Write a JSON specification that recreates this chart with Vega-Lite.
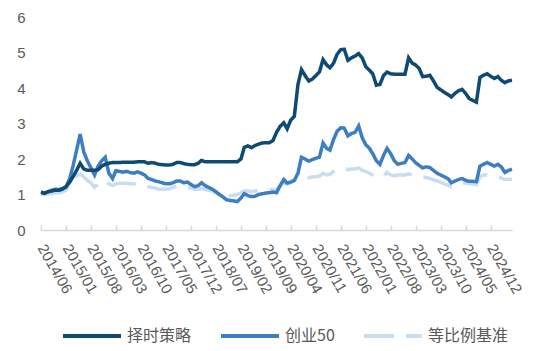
{
"$schema":"https://vega.github.io/schema/vega-lite/v6.json",
"autosize":{"type":"none"},
"padding":{"left":41,"top":17,"right":22,"bottom":121},
"width":471,"height":213,
"config":{"view":{"stroke":null},"font":"Liberation Sans","axis":{"labelColor":"#595959","labelFontSize":15,"grid":false,"title":null,"labelFont":"Liberation Sans"}},
"data":{"values":[
{"d":"2014/06/01","择时策略":1.05,"创业50":1.08,"等比例基准":1.02},
{"d":"2014/07/01","择时策略":1.04,"创业50":1.03,"等比例基准":1.00},
{"d":"2014/08/01","择时策略":1.08,"创业50":1.08,"等比例基准":1.02},
{"d":"2014/09/01","择时策略":1.10,"创业50":1.12,"等比例基准":1.03},
{"d":"2014/10/01","择时策略":1.12,"创业50":1.15,"等比例基准":1.05},
{"d":"2014/11/01","择时策略":1.12,"创业50":1.14,"等比例基准":1.05},
{"d":"2014/12/01","择时策略":1.15,"创业50":1.17,"等比例基准":1.07},
{"d":"2015/01/01","择时策略":1.22,"创业50":1.22,"等比例基准":1.12},
{"d":"2015/02/01","择时策略":1.35,"创业50":1.45,"等比例基准":1.30},
{"d":"2015/03/01","择时策略":1.50,"创业50":1.80,"等比例基准":1.45},
{"d":"2015/04/01","择时策略":1.68,"创业50":2.25,"等比例基准":1.52},
{"d":"2015/05/01","择时策略":1.88,"创业50":2.70,"等比例基准":1.58},
{"d":"2015/06/01","择时策略":1.72,"创业50":2.20,"等比例基准":1.50},
{"d":"2015/07/01","择时策略":1.68,"创业50":1.95,"等比例基准":1.40},
{"d":"2015/08/01","择时策略":1.68,"创业50":1.75,"等比例基准":1.33},
{"d":"2015/09/01","择时策略":1.68,"创业50":1.55,"等比例基准":1.20},
{"d":"2015/10/01","择时策略":1.70,"创业50":1.80,"等比例基准":1.30},
{"d":"2015/11/01","择时策略":1.80,"创业50":1.95,"等比例基准":1.38},
{"d":"2015/12/01","择时策略":1.85,"创业50":2.05,"等比例基准":1.40},
{"d":"2016/01/01","择时策略":1.88,"创业50":1.60,"等比例基准":1.30},
{"d":"2016/02/01","择时策略":1.90,"创业50":1.45,"等比例基准":1.25},
{"d":"2016/03/01","择时策略":1.90,"创业50":1.67,"等比例基准":1.30},
{"d":"2016/04/01","择时策略":1.90,"创业50":1.65,"等比例基准":1.32},
{"d":"2016/05/01","择时策略":1.91,"创业50":1.63,"等比例基准":1.32},
{"d":"2016/06/01","择时策略":1.91,"创业50":1.65,"等比例基准":1.32},
{"d":"2016/07/01","择时策略":1.91,"创业50":1.62,"等比例基准":1.30},
{"d":"2016/08/01","择时策略":1.91,"创业50":1.60,"等比例基准":1.30},
{"d":"2016/09/01","择时策略":1.92,"创业50":1.64,"等比例基准":1.32},
{"d":"2016/10/01","择时策略":1.92,"创业50":1.60,"等比例基准":1.30},
{"d":"2016/11/01","择时策略":1.92,"创业50":1.55,"等比例基准":1.27},
{"d":"2016/12/01","择时策略":1.88,"创业50":1.45,"等比例基准":1.22},
{"d":"2017/01/01","择时策略":1.90,"创业50":1.42,"等比例基准":1.20},
{"d":"2017/02/01","择时策略":1.88,"创业50":1.38,"等比例基准":1.18},
{"d":"2017/03/01","择时策略":1.85,"创业50":1.36,"等比例基准":1.15},
{"d":"2017/04/01","择时策略":1.84,"创业50":1.33,"等比例基准":1.15},
{"d":"2017/05/01","择时策略":1.83,"创业50":1.30,"等比例基准":1.15},
{"d":"2017/06/01","择时策略":1.83,"创业50":1.30,"等比例基准":1.16},
{"d":"2017/07/01","择时策略":1.85,"创业50":1.33,"等比例基准":1.20},
{"d":"2017/08/01","择时策略":1.90,"创业50":1.38,"等比例基准":1.24},
{"d":"2017/09/01","择时策略":1.90,"创业50":1.38,"等比例基准":1.22},
{"d":"2017/10/01","择时策略":1.87,"创业50":1.33,"等比例基准":1.20},
{"d":"2017/11/01","择时策略":1.85,"创业50":1.35,"等比例基准":1.20},
{"d":"2017/12/01","择时策略":1.84,"创业50":1.28,"等比例基准":1.18},
{"d":"2018/01/01","择时策略":1.84,"创业50":1.22,"等比例基准":1.15},
{"d":"2018/02/01","择时策略":1.88,"创业50":1.25,"等比例基准":1.15},
{"d":"2018/03/01","择时策略":1.96,"创业50":1.33,"等比例基准":1.17},
{"d":"2018/04/01","择时策略":1.92,"创业50":1.25,"等比例基准":1.14},
{"d":"2018/05/01","择时策略":1.92,"创业50":1.20,"等比例基准":1.12},
{"d":"2018/06/01","择时策略":1.92,"创业50":1.15,"等比例基准":1.10},
{"d":"2018/07/01","择时策略":1.92,"创业50":1.08,"等比例基准":1.05},
{"d":"2018/08/01","择时策略":1.92,"创业50":1.00,"等比例基准":1.03},
{"d":"2018/09/01","择时策略":1.92,"创业50":0.93,"等比例基准":1.00},
{"d":"2018/10/01","择时策略":1.92,"创业50":0.85,"等比例基准":0.98},
{"d":"2018/11/01","择时策略":1.92,"创业50":0.83,"等比例基准":0.97},
{"d":"2018/12/01","择时策略":1.92,"创业50":0.82,"等比例基准":0.98},
{"d":"2019/01/01","择时策略":1.92,"创业50":0.80,"等比例基准":1.00},
{"d":"2019/02/01","择时策略":2.00,"创业50":0.90,"等比例基准":1.05},
{"d":"2019/03/01","择时策略":2.33,"创业50":1.02,"等比例基准":1.10},
{"d":"2019/04/01","择时策略":2.37,"创业50":0.97,"等比例基准":1.10},
{"d":"2019/05/01","择时策略":2.32,"创业50":0.94,"等比例基准":1.08},
{"d":"2019/06/01","择时策略":2.38,"创业50":0.95,"等比例基准":1.10},
{"d":"2019/07/01","择时策略":2.42,"创业50":1.00,"等比例基准":1.12},
{"d":"2019/08/01","择时策略":2.45,"创业50":1.02,"等比例基准":1.12},
{"d":"2019/09/01","择时策略":2.46,"创业50":1.04,"等比例基准":1.13},
{"d":"2019/10/01","择时策略":2.46,"创业50":1.05,"等比例基准":1.14},
{"d":"2019/11/01","择时策略":2.52,"创业50":1.07,"等比例基准":1.14},
{"d":"2019/12/01","择时策略":2.75,"创业50":1.05,"等比例基准":1.15},
{"d":"2020/01/01","择时策略":2.92,"创业50":1.25,"等比例基准":1.25},
{"d":"2020/02/01","择时策略":3.02,"创业50":1.42,"等比例基准":1.32},
{"d":"2020/03/01","择时策略":2.85,"创业50":1.32,"等比例基准":1.30},
{"d":"2020/04/01","择时策略":3.10,"创业50":1.35,"等比例基准":1.35},
{"d":"2020/05/01","择时策略":3.20,"创业50":1.40,"等比例基准":1.38},
{"d":"2020/06/01","择时策略":4.10,"创业50":1.60,"等比例基准":1.45},
{"d":"2020/07/01","择时策略":4.52,"创业50":2.05,"等比例基准":1.50},
{"d":"2020/08/01","择时策略":4.35,"创业50":2.00,"等比例基准":1.48},
{"d":"2020/09/01","择时策略":4.20,"创业50":1.94,"等比例基准":1.47},
{"d":"2020/10/01","择时策略":4.25,"创业50":1.98,"等比例基准":1.50},
{"d":"2020/11/01","择时策略":4.35,"创业50":2.02,"等比例基准":1.50},
{"d":"2020/12/01","择时策略":4.45,"创业50":2.05,"等比例基准":1.52},
{"d":"2021/01/01","择时策略":4.80,"创业50":2.45,"等比例基准":1.60},
{"d":"2021/02/01","择时策略":4.65,"创业50":2.30,"等比例基准":1.55},
{"d":"2021/03/01","择时策略":4.57,"创业50":2.25,"等比例基准":1.57},
{"d":"2021/04/01","择时策略":4.70,"创业50":2.55,"等比例基准":1.65},
{"d":"2021/05/01","择时策略":4.95,"创业50":2.78,"等比例基准":1.72},
{"d":"2021/06/01","择时策略":5.08,"创业50":2.88,"等比例基准":1.75},
{"d":"2021/07/01","择时策略":5.09,"创业50":2.87,"等比例基准":1.74},
{"d":"2021/08/01","择时策略":4.78,"创业50":2.65,"等比例基准":1.70},
{"d":"2021/09/01","择时策略":4.85,"创业50":2.72,"等比例基准":1.72},
{"d":"2021/10/01","择时策略":4.90,"创业50":2.75,"等比例基准":1.72},
{"d":"2021/11/01","择时策略":4.97,"创业50":2.93,"等比例基准":1.75},
{"d":"2021/12/01","择时策略":4.85,"创业50":2.60,"等比例基准":1.68},
{"d":"2022/01/01","择时策略":4.60,"创业50":2.40,"等比例基准":1.65},
{"d":"2022/02/01","择时策略":4.50,"创业50":2.30,"等比例基准":1.60},
{"d":"2022/03/01","择时策略":4.40,"创业50":2.15,"等比例基准":1.55},
{"d":"2022/04/01","择时策略":4.08,"创业50":1.95,"等比例基准":1.50},
{"d":"2022/05/01","择时策略":4.10,"创业50":1.85,"等比例基准":1.47},
{"d":"2022/06/01","择时策略":4.35,"创业50":2.10,"等比例基准":1.52},
{"d":"2022/07/01","择时策略":4.45,"创业50":2.30,"等比例基准":1.62},
{"d":"2022/08/01","择时策略":4.40,"创业50":2.15,"等比例基准":1.55},
{"d":"2022/09/01","择时策略":4.39,"创业50":1.95,"等比例基准":1.52},
{"d":"2022/10/01","择时策略":4.39,"创业50":1.85,"等比例基准":1.55},
{"d":"2022/11/01","择时策略":4.39,"创业50":1.88,"等比例基准":1.55},
{"d":"2022/12/01","择时策略":4.39,"创业50":1.90,"等比例基准":1.55},
{"d":"2023/01/01","择时策略":4.85,"创业50":2.10,"等比例基准":1.58},
{"d":"2023/02/01","择时策略":4.70,"创业50":2.00,"等比例基准":1.55},
{"d":"2023/03/01","择时策略":4.65,"创业50":1.90,"等比例基准":1.52},
{"d":"2023/04/01","择时策略":4.55,"创业50":1.82,"等比例基准":1.50},
{"d":"2023/05/01","择时策略":4.32,"创业50":1.75,"等比例基准":1.50},
{"d":"2023/06/01","择时策略":4.33,"创业50":1.78,"等比例基准":1.48},
{"d":"2023/07/01","择时策略":4.36,"创业50":1.76,"等比例基准":1.45},
{"d":"2023/08/01","择时策略":4.20,"创业50":1.68,"等比例基准":1.42},
{"d":"2023/09/01","择时策略":4.02,"创业50":1.60,"等比例基准":1.38},
{"d":"2023/10/01","择时策略":3.95,"创业50":1.55,"等比例基准":1.35},
{"d":"2023/11/01","择时策略":3.88,"创业50":1.50,"等比例基准":1.30},
{"d":"2023/12/01","择时策略":3.82,"创业50":1.45,"等比例基准":1.27},
{"d":"2024/01/01","择时策略":3.75,"创业50":1.33,"等比例基准":1.22},
{"d":"2024/02/01","择时策略":3.85,"创业50":1.38,"等比例基准":1.28},
{"d":"2024/03/01","择时策略":3.92,"创业50":1.42,"等比例基准":1.30},
{"d":"2024/04/01","择时策略":3.96,"创业50":1.45,"等比例基准":1.33},
{"d":"2024/05/01","择时策略":3.85,"创业50":1.40,"等比例基准":1.32},
{"d":"2024/06/01","择时策略":3.70,"创业50":1.37,"等比例基准":1.30},
{"d":"2024/07/01","择时策略":3.65,"创业50":1.37,"等比例基准":1.30},
{"d":"2024/08/01","择时策略":3.60,"创业50":1.36,"等比例基准":1.28},
{"d":"2024/09/01","择时策略":4.30,"创业50":1.80,"等比例基准":1.50},
{"d":"2024/10/01","择时策略":4.36,"创业50":1.85,"等比例基准":1.55},
{"d":"2024/11/01","择时策略":4.40,"创业50":1.90,"等比例基准":1.55},
{"d":"2024/12/01","择时策略":4.33,"创业50":1.85,"等比例基准":1.52},
{"d":"2025/01/01","择时策略":4.27,"创业50":1.80,"等比例基准":1.50},
{"d":"2025/02/01","择时策略":4.32,"创业50":1.85,"等比例基准":1.50},
{"d":"2025/03/01","择时策略":4.22,"创业50":1.78,"等比例基准":1.47},
{"d":"2025/04/01","择时策略":4.15,"创业50":1.62,"等比例基准":1.42},
{"d":"2025/05/01","择时策略":4.20,"创业50":1.68,"等比例基准":1.42},
{"d":"2025/06/01","择时策略":4.22,"创业50":1.71,"等比例基准":1.43}
]},
"transform":[{"fold":["择时策略","创业50","等比例基准"],"as":["series","value"]}],
"encoding":{
"x":{"field":"d","type":"temporal",
 "scale":{"domain":[{"year":2014,"month":6,"date":1},{"year":2025,"month":6,"date":1}],"nice":false},
 "axis":{"values":[
  {"year":2014,"month":6,"date":1},{"year":2015,"month":1,"date":1},{"year":2015,"month":8,"date":1},
  {"year":2016,"month":3,"date":1},{"year":2016,"month":10,"date":1},{"year":2017,"month":5,"date":1},
  {"year":2017,"month":12,"date":1},{"year":2018,"month":7,"date":1},{"year":2019,"month":2,"date":1},
  {"year":2019,"month":9,"date":1},{"year":2020,"month":4,"date":1},{"year":2020,"month":11,"date":1},
  {"year":2021,"month":6,"date":1},{"year":2022,"month":1,"date":1},{"year":2022,"month":8,"date":1},
  {"year":2023,"month":3,"date":1},{"year":2023,"month":10,"date":1},{"year":2024,"month":5,"date":1},
  {"year":2024,"month":12,"date":1}],
  "format":"%Y/%m","labelAngle":60,"labelAlign":"left","labelBaseline":"middle",
  "domainColor":"#d9d9d9","domainWidth":1.5,"tickColor":"#d9d9d9","tickWidth":1.5,"tickSize":-5,
  "labelPadding":20,"labelFlush":false,"labelOverlap":false,"labelBound":false}},
"y":{"field":"value","type":"quantitative","scale":{"domain":[0,6],"nice":false},
 "axis":{"values":[0,1,2,3,4,5,6],"domain":false,"ticks":false,"labelPadding":16,"format":"d"}},
"color":{"field":"series","type":"nominal","title":null,
 "scale":{"domain":["择时策略","创业50","等比例基准"],"range":["#0e4a72","#3d7ec3","#c9ddf1"]},
 "legend":{"orient":"none","legendX":20,"legendY":288,"direction":"horizontal","symbolType":"stroke","symbolSize":3364,"symbolStrokeWidth":4,"labelFontSize":16,"labelFont":"Noto Sans CJK SC","labelColor":"#595959","columnPadding":21,"labelOffset":4}},
"strokeDash":{"field":"series","type":"nominal","title":null,
 "scale":{"domain":["择时策略","创业50","等比例基准"],"range":[[1,0],[1,0],[30,12]]},
 "legend":{"orient":"none","legendX":20,"legendY":288,"direction":"horizontal","symbolType":"stroke","symbolSize":3364,"symbolStrokeWidth":4,"labelFontSize":16,"labelFont":"Noto Sans CJK SC","labelColor":"#595959","columnPadding":21,"labelOffset":4}}
},
"layer":[
 {"transform":[{"filter":"datum.series === '等比例基准'"}],"mark":{"type":"line","strokeWidth":3.5}},
 {"transform":[{"filter":"datum.series === '创业50'"}],"mark":{"type":"line","strokeWidth":3.5}},
 {"transform":[{"filter":"datum.series === '择时策略'"}],"mark":{"type":"line","strokeWidth":3.5}}
]
}
